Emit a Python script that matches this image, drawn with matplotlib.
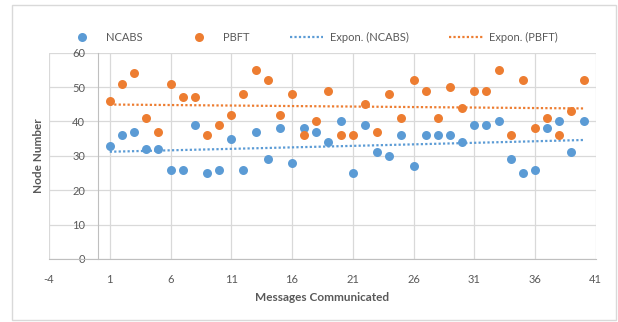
import numpy as np
import matplotlib
matplotlib.use("Agg")
import matplotlib.pyplot as plt
from matplotlib.lines import Line2D

plt.rcParams['font.family'] = ['Lato', 'DejaVu Sans']
plt.rcParams['axes.unicode_minus'] = False

# messages 1..40
messages = list(range(1, 41))
ncabs = [33, 36, 37, 32, 32, 26, 26, 39, 25, 26,
         35, 26, 37, 29, 38, 28, 38, 37, 34, 40,
         25, 39, 31, 30, 36, 27, 36, 36, 36, 34,
         39, 39, 40, 29, 25, 26, 38, 40, 31, 40]
pbft = [46, 51, 54, 41, 37, 51, 47, 47, 36, 39,
        42, 48, 55, 52, 42, 48, 36, 40, 49, 36,
        36, 45, 37, 48, 41, 52, 49, 41, 50, 44,
        49, 49, 55, 36, 52, 38, 41, 36, 43, 52]

x_ticks = [-4, 1, 6, 11, 16, 21, 26, 31, 36, 41]
y_ticks = [0, 10, 20, 30, 40, 50, 60]

BLUE = '#5B9BD5'
ORANGE = '#ED7D31'
GRID = '#D9D9D9'
TEXT = '#595959'


def expon_fit(x, y):
    # same as an Excel exponential trendline: least squares on ln(y)
    b, ln_a = np.polyfit(x, np.log(y), 1)
    return np.exp(ln_a) * np.exp(b * np.asarray(x))


fig = plt.figure(figsize=(6.18, 3.22), dpi=100)
ax = fig.add_axes([0.0793, 0.1957, 0.964 - 0.0793, 0.8363 - 0.1957])

x = np.array(messages)
ax.scatter(x, ncabs, s=42, color=BLUE, zorder=3, linewidths=0)
ax.scatter(x, pbft, s=42, color=ORANGE, zorder=3, linewidths=0)
ax.plot(x, expon_fit(x, ncabs), color=BLUE, lw=1.6, ls=(0, (1, 1)), zorder=2)
ax.plot(x, expon_fit(x, pbft), color=ORANGE, lw=1.6, ls=(0, (1, 1)), zorder=2)

ax.set_xlim(-4, 41)
ax.set_ylim(0, 60)
ax.set_xticks(x_ticks)
ax.set_yticks(y_ticks)
ax.grid(True, color=GRID, lw=0.9)
ax.set_axisbelow(True)

# value axis crosses at x = 0
for s in ['top', 'right']:
    ax.spines[s].set_visible(False)
ax.spines['left'].set_position(('data', 0))
ax.spines['left'].set_color('#BFBFBF')
ax.spines['bottom'].set_color('#BFBFBF')
ax.tick_params(axis='both', length=0, labelsize=8, labelcolor=TEXT)
ax.tick_params(axis='x', pad=11)
ax.tick_params(axis='y', pad=9)

ax.set_xlabel('Messages Communicated', fontsize=8.5, fontweight='bold', color=TEXT, labelpad=5)
fig.text(0.062, 0.516, 'Node Number', rotation=90, ha='center', va='center',
         fontsize=8.5, fontweight='bold', color=TEXT)

handles = [
    Line2D([], [], ls='none', marker='o', ms=6.5, color=BLUE, mec='none'),
    Line2D([], [], ls='none', marker='o', ms=6.5, color=ORANGE, mec='none'),
    Line2D([], [], color=BLUE, lw=1.6, ls=(0, (1, 1))),
    Line2D([], [], color=ORANGE, lw=1.6, ls=(0, (1, 1))),
]
labels = ['NCABS', 'PBFT', 'Expon. (NCABS)', 'Expon. (PBFT)']
leg = fig.legend(handles, labels, ncol=4, loc='center left', bbox_to_anchor=(0.106, 0.885),
                 frameon=False, fontsize=8, handlelength=3.0, handletextpad=0.6,
                 columnspacing=3.65, borderpad=0, borderaxespad=0)
for t in leg.get_texts():
    t.set_color(TEXT)

# chart border
fig.patches.append(plt.Rectangle((0.0194, 0.0047), 0.9774, 0.9798, transform=fig.transFigure,
                                 fill=False, ec='#D9D9D9', lw=1))

fig.savefig('out.png', dpi=100)
